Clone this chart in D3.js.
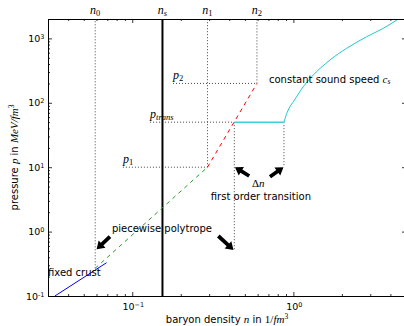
<!DOCTYPE html>
<html><head><meta charset="utf-8">
<script src="https://cdn.jsdelivr.net/npm/d3@7"></script>
<style>
body{margin:0;background:#fff}
svg text{font-family:"DejaVu Sans",sans-serif;fill:#000}
.m{font-family:"Liberation Serif",serif;font-style:italic}
.r{font-family:"Liberation Serif",serif;font-style:normal}
</style></head><body>
<svg id="chart" width="404" height="326"></svg>
<script>
// Sketch of a neutron-star equation of state: crust, polytropes,
// first-order phase transition and a constant-sound-speed segment.
const crust = [[0.0331, 0.1], [0.0693, 0.329]];
const polytropeLow = [[0.0589, 0.269], [0.293, 10]];   // n0 -> n1
const polytropeHigh = [[0.293, 10], [0.594, 200]];     // n1 -> n2
const plateau = [[0.430, 50], [0.874, 50]];            // p = p_trans
const soundSpeed = [[0.874, 50], [0.905, 66], [0.952, 87], [1.0, 104], [1.152, 178],
  [1.299, 254], [1.687, 462], [2.142, 702], [2.851, 1062], [3.614, 1434], [4.48, 2000]];

const densityNames = ["0", "s", "1", "2"];
const densityValues = [0.0589, 0.154, 0.293, 0.594];
const pressureNames = ["2", "trans", "1"];
const pressureValues = [200, 50, 10];
const pressureLabelStart = [0.179, 0.129, 0.0875];
const p0 = 0.269;
const transStart = 0.430, transEnd = 0.874;

const xMajor = [0.1, 1];
const xMajorExp = ["−1", "0"];
const yMajor = [0.1, 1, 10, 100, 1000];
const yMajorExp = ["-1", "0", "1", "2", "3"];

const svg = d3.select("#chart");
const L = 48, R = 406, T = 19, B = 296;
const x = d3.scaleLog().domain([0.03, 5]).range([L, R]);
const y = d3.scaleLog().domain([0.1, 2000]).range([B, T]);

svg.append("defs").append("clipPath").attr("id", "plot")
  .append("rect").attr("x", L).attr("y", T).attr("width", R - L).attr("height", B - T);

const line = d3.line().x(d => x(d[0])).y(d => y(d[1]));
const lineSmooth = d3.line().x(d => x(d[0])).y(d => y(d[1])).curve(d3.curveMonotoneX);
const plot = svg.append("g").attr("clip-path", "url(#plot)");

// dotted guide lines
const dot = {stroke: "#444", "stroke-width": 1, "stroke-dasharray": "1,2", fill: "none"};
function guide(pts) {
  const p = plot.append("path").attr("d", line(pts));
  for (const k in dot) p.attr(k, dot[k]);
}
const yTop = y.domain()[1];
guide([[densityValues[0], p0], [densityValues[0], yTop]]);
guide([[densityValues[2], pressureValues[2]], [densityValues[2], yTop]]);
guide([[densityValues[3], pressureValues[0]], [densityValues[3], yTop]]);
guide([[transStart, pressureValues[1]], [transStart, 0.52]]);
guide([[transEnd, pressureValues[1]], [transEnd, 10]]);
guide([[pressureLabelStart[0], pressureValues[0]], [densityValues[3], pressureValues[0]]]);
guide([[pressureLabelStart[1], pressureValues[1]], [transStart, pressureValues[1]]]);
guide([[pressureLabelStart[2], pressureValues[2]], [densityValues[2], pressureValues[2]]]);

// saturation density
plot.append("path").attr("d", line([[densityValues[1], 0.1], [densityValues[1], yTop]]))
  .attr("stroke", "#000").attr("stroke-width", 2);

// EoS segments
plot.append("path").attr("d", line(crust)).attr("stroke", "#0000ff").attr("fill", "none").attr("stroke-width", 1);
plot.append("path").attr("d", line(polytropeLow)).attr("stroke", "#22a022").attr("fill", "none")
  .attr("stroke-width", 1).attr("stroke-dasharray", "4,4");
plot.append("path").attr("d", line(polytropeHigh)).attr("stroke", "#ff0000").attr("fill", "none")
  .attr("stroke-width", 1).attr("stroke-dasharray", "4,4");
plot.append("path").attr("d", line(plateau)).attr("stroke", "#40cfd6").attr("fill", "none").attr("stroke-width", 1.5);
plot.append("path").attr("d", lineSmooth(soundSpeed)).attr("stroke", "#1ec8d0").attr("fill", "none").attr("stroke-width", 1);

// axes: inward ticks on all four sides
function minorTicks(scale) {
  const [a, b] = scale.domain();
  const out = [];
  for (let e = Math.floor(Math.log10(a)); e <= Math.ceil(Math.log10(b)); e++)
    for (let k = 2; k <= 9; k++) {
      const v = k * Math.pow(10, e);
      if (v >= a * 0.999 && v <= b * 1.001) out.push(v);
    }
  return out;
}
function drawAxis(axisFn, scale, major, tr) {
  const g1 = svg.append("g").attr("transform", tr)
    .call(axisFn(scale).tickValues(major).tickSizeInner(-4).tickSizeOuter(0).tickFormat(""));
  const g2 = svg.append("g").attr("transform", tr)
    .call(axisFn(scale).tickValues(minorTicks(scale)).tickSizeInner(-2).tickSizeOuter(0).tickFormat(""));
  [g1, g2].forEach(g => {
    g.selectAll(".tick line").attr("stroke", "#000").attr("stroke-width", 0.8);
    g.select(".domain").attr("stroke", "#000").attr("stroke-width", 1);
  });
  g2.select(".domain").remove();
  return g1;
}
drawAxis(d3.axisBottom, x, xMajor, `translate(0,${B})`);
drawAxis(d3.axisTop, x, xMajor, `translate(0,${T})`);
drawAxis(d3.axisLeft, y, yMajor, `translate(${L},0)`);
drawAxis(d3.axisRight, y, yMajor, `translate(${R},0)`);

// tick labels
function pow10(g, exp, anchor) {
  const t = g.append("text").attr("text-anchor", anchor).style("font-size", "9.5px");
  t.append("tspan").text("10");
  t.append("tspan").attr("dy", "-0.45em").style("font-size", "6.5px").text(exp);
  return t;
}
xMajor.forEach((v, i) => {
  pow10(svg, xMajorExp[i], "middle").attr("x", x(v) + 1).attr("y", 310);
});
yMajor.forEach((v, i) => {
  pow10(svg, yMajorExp[i], "end").attr("x", 44.5).attr("y", y(v) + 3.5);
});

// subscripts: digits upright, letters italic
const subClass = s => /^\d+$/.test(s) ? "r" : "m";

// top density labels
densityValues.forEach((v, i) => {
  const t = svg.append("text").attr("class", "m").attr("x", x(v)).attr("y", 13.5)
    .attr("text-anchor", "middle").style("font-size", "12px");
  t.append("tspan").text("n");
  t.append("tspan").attr("class", subClass(densityNames[i])).attr("dy", "2")
    .style("font-size", "8.5px").text(densityNames[i]);
});

// pressure labels
pressureValues.forEach((v, i) => {
  const t = svg.append("text").attr("class", "m").attr("x", x(pressureLabelStart[i]))
    .attr("y", y(v) - 4).style("font-size", "12px");
  t.append("tspan").text("p");
  t.append("tspan").attr("class", subClass(pressureNames[i])).attr("dy", "1.5")
    .style("font-size", "8.5px").text(pressureNames[i]);
});

// descriptive labels
function label(n, p, anchor) {
  return svg.append("text").attr("x", x(n)).attr("y", y(p)).attr("text-anchor", anchor).style("font-size", "10px");
}
const cs = label(0.706, 203, "start");
cs.append("tspan").text("constant sound speed ");
cs.append("tspan").attr("class", "m").style("font-size", "11px").text("c");
cs.append("tspan").attr("class", "m").attr("dy", "1.5").style("font-size", "7.5px").text("s");

const dn = label(0.605, 4.9, "middle");
dn.append("tspan").attr("class", "r").style("font-size", "11px").text("Δ");
dn.append("tspan").attr("class", "m").style("font-size", "11px").text("n");

label(0.629, 3.1, "middle").text("first order transition");
label(0.0748, 1.0, "start").text("piecewise polytrope");
label(0.03, 0.205, "start").text("fixed crust");

// annotation arrows: [tail, tip] in data coordinates
const arrows = [
  [[0.0727, 0.834], [0.0601, 0.531]],
  [[0.342, 0.855], [0.425, 0.52]],
  [[0.532, 7.3], [0.434, 10]],
  [[0.716, 7.1], [0.868, 10]]
];
arrows.forEach(([a, b]) => {
  const x0 = x(a[0]), y0 = y(a[1]), x1 = x(b[0]), y1 = y(b[1]);
  const len = Math.hypot(x1 - x0, y1 - y0);
  const ux = (x1 - x0) / len, uy = (y1 - y0) / len, vx = -uy, vy = ux;
  const w = 1.9, hw = 5, hl = 7.5;
  const bx = x1 - ux * hl, by = y1 - uy * hl;
  const pts = [
    [x0 + vx * w, y0 + vy * w], [bx + vx * w, by + vy * w], [bx + vx * hw, by + vy * hw],
    [x1, y1], [bx - vx * hw, by - vy * hw], [bx - vx * w, by - vy * w], [x0 - vx * w, y0 - vy * w]
  ];
  svg.append("polygon").attr("points", pts.map(p => p.join(",")).join(" ")).attr("fill", "#000");
});

// axis titles
const xt = svg.append("text").attr("x", 227).attr("y", 323).attr("text-anchor", "middle").style("font-size", "10px");
xt.append("tspan").text("baryon density ");
xt.append("tspan").attr("class", "m").style("font-size", "11px").text("n");
xt.append("tspan").text(" in ");
xt.append("tspan").attr("class", "r").style("font-size", "11px").text("1/");
xt.append("tspan").attr("class", "m").style("font-size", "11px").text("fm");
xt.append("tspan").attr("class", "r").attr("dy", "-4").style("font-size", "7.5px").text("3");

const yt = svg.append("text").attr("transform", "translate(18,157.5) rotate(-90)")
  .attr("text-anchor", "middle").style("font-size", "10px");
yt.append("tspan").text("pressure ");
yt.append("tspan").attr("class", "m").style("font-size", "11px").text("p");
yt.append("tspan").text(" in ");
yt.append("tspan").attr("class", "m").style("font-size", "11px").text("MeV/fm");
yt.append("tspan").attr("class", "r").attr("dy", "-4").style("font-size", "7.5px").text("3");
</script>
</body></html>
